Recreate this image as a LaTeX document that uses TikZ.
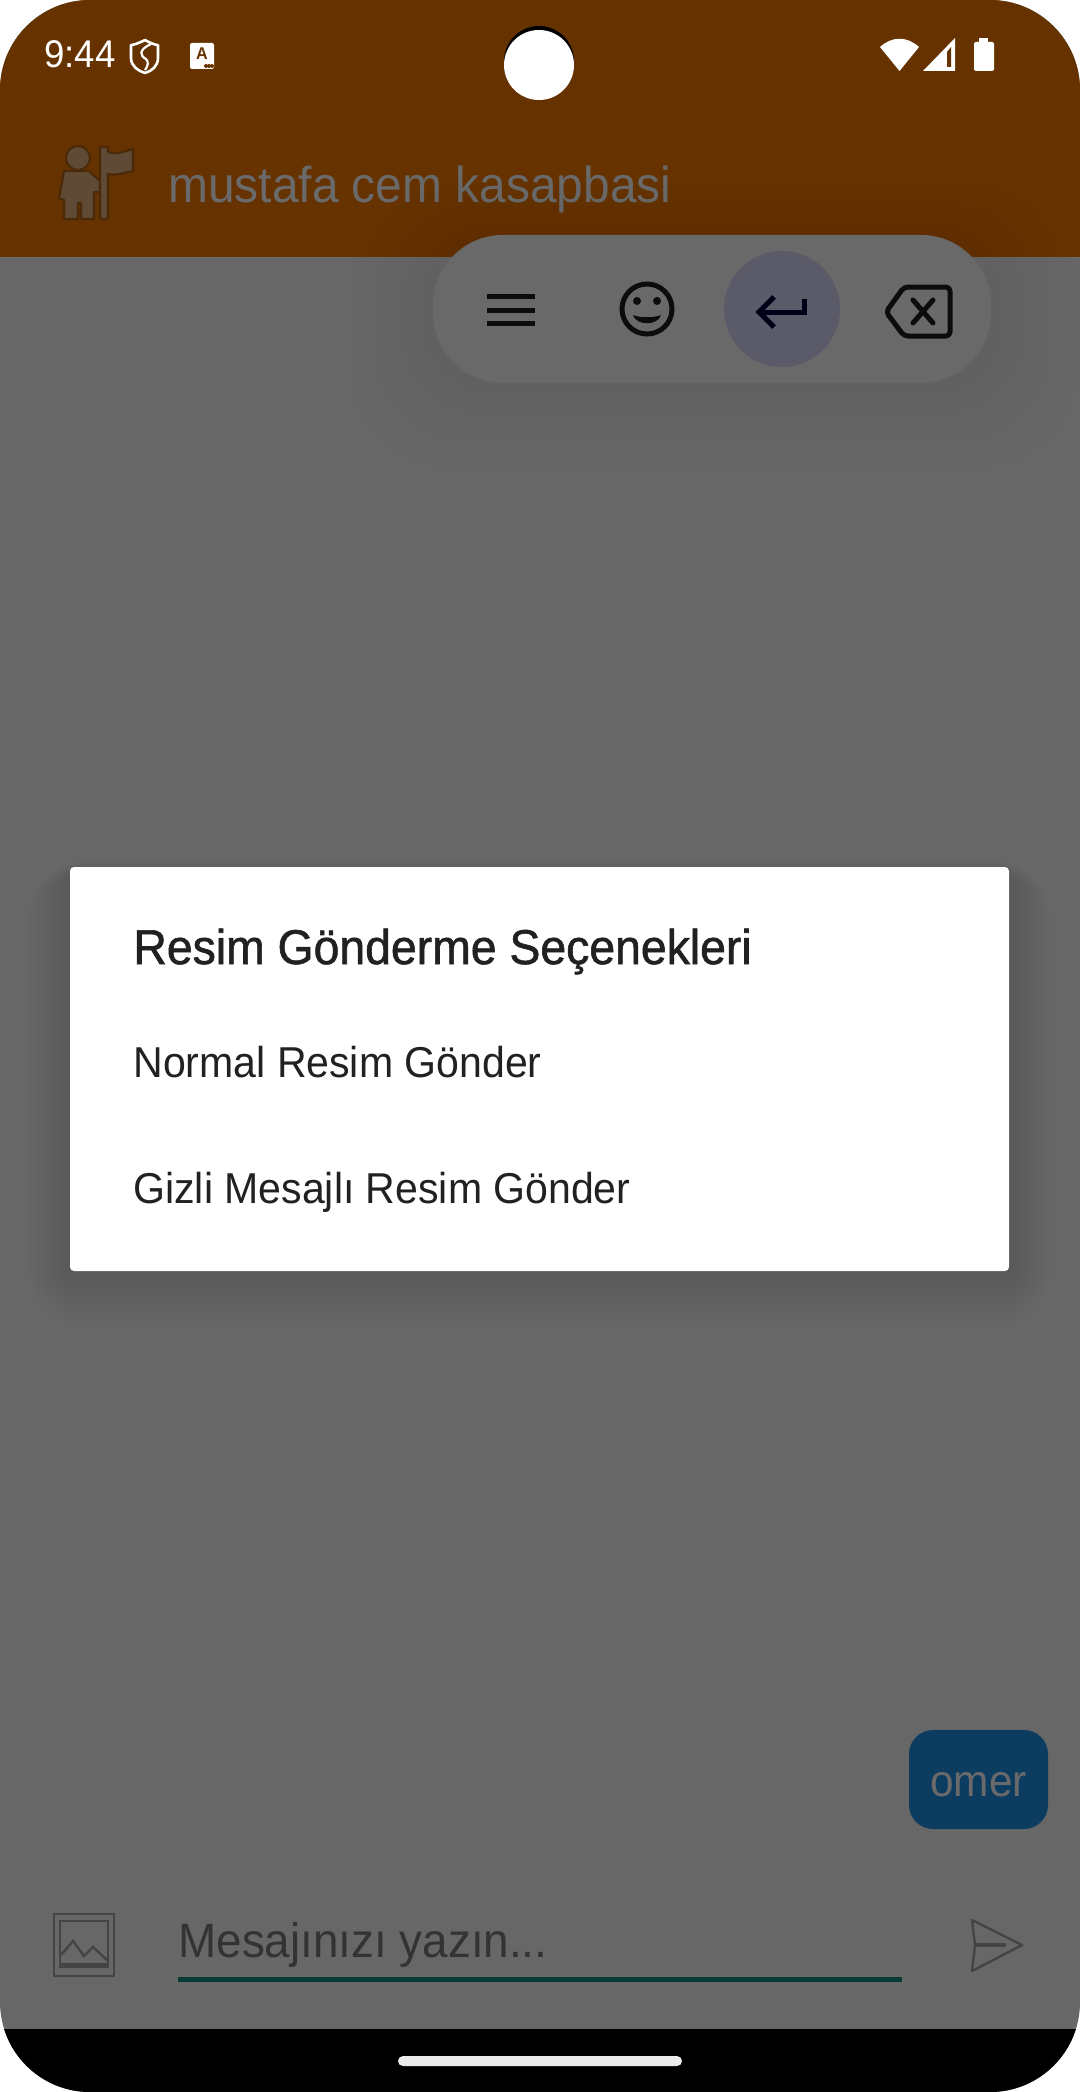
\documentclass[tikz,border=0pt]{standalone}
\usepackage{fontspec}
\setmainfont{Liberation Sans}[FakeStretch=0.95]
\newfontfamily\medfont[FakeBold=1.2,FakeStretch=0.95]{Liberation Sans}
\usetikzlibrary{positioning,calc}
\definecolor{headerbrown}{HTML}{663300}
\definecolor{screengrey}{HTML}{676767}
\definecolor{barblue}{HTML}{0D3C61}
\definecolor{inputgreen}{HTML}{083A36}
\definecolor{dimtext}{HTML}{6A6A6B}
\definecolor{dialogtext}{HTML}{212121}
\definecolor{toolgrey}{HTML}{69696A}
\definecolor{enterfill}{HTML}{5A5A68}
\definecolor{iconink}{HTML}{0C0C0E}
\definecolor{flagfill}{HTML}{5F4A35}
\definecolor{flagedge}{HTML}{4A2A08}
\definecolor{inputink}{HTML}{444444}
\definecolor{hinttext}{HTML}{333333}
\tikzset{
  txt/.style={inner sep=0pt,anchor=base west},
  option/.style={txt,text=dialogtext,font=\fontsize{21.6}{26}\selectfont},
  toolicon/.style={draw=iconink,line width=2.5pt,fill=none},
  inputicon/.style={draw=inputink,line width=1.2pt,fill=none}
}
\begin{document}
\begin{tikzpicture}[x=0.5pt,y=-0.5pt]
  \useasboundingbox (0,0) rectangle (1080,2092);
  \fill[white] (0,0) rectangle (1080,2092);
  \begin{scope}
    \clip[rounded corners=45pt] (0,0) rectangle (1080,2092);
    \fill[screengrey] (0,0) rectangle (1080,2092);
    \fill[headerbrown] (0,0) rectangle (1080,257);
    \fill[black] (0,2029) rectangle (1080,2092);
  \end{scope}
  % status bar
  \node[txt,text=white,font=\fontsize{19.3}{22}\selectfont] (clock) at (44,68) {9:44};
  \draw[white,line width=1.3pt,line join=round] (145,40) .. controls (137,44) and (133,45) .. (131,45) -- (131,58) .. controls (131,66) and (138,71) .. (145,73) .. controls (152,71) and (158,66) .. (158,58) -- (158,45) .. controls (156,45) and (152,44) .. (145,40) -- cycle;
  \draw[white,line width=1.1pt] (151,44) .. controls (138,50) and (140,56) .. (146,59) .. controls (149,62) and (148,66) .. (145,70);
  \fill[white,rounded corners=1pt] (190,43) rectangle (214,69);
  \node[inner sep=0pt,text=headerbrown,font=\fontsize{8.5}{10}\bfseries\selectfont] (badge) at (202,54) {A};
  \foreach \i in {206,209,212} \fill[headerbrown] (\i,66) circle (1pt);
  \fill[black] (539,61) circle (17.5pt);
  \fill[white] (539,65) circle (17.5pt);
  \fill[white] (899.5,71) -- (880,47) .. controls (892,36) and (907,36) .. (919,47) -- cycle;
  \fill[white] (923,71) -- (955,38) -- (955,71) -- cycle;
  \fill[headerbrown] (947,67) -- (947,52) -- (951,47) -- (951,67) -- cycle;
  \fill[white,rounded corners=1pt] (974,42) rectangle (994,71);
  \fill[white] (979,38) rectangle (988,43);
  % header
  \begin{scope}[draw=flagedge,fill=flagfill,line width=1.1pt,line join=round]
    \filldraw (78,158) circle (6pt);
    \filldraw (64,171) -- (89,171) -- (100,181) -- (100,192) -- (94,192) -- (94,219) -- (81,219) -- (81,203) -- (78,203) -- (78,219) -- (64,219) -- (64,200) -- (59,198) -- cycle;
    \filldraw (100,147) -- (108,147) -- (108,152) .. controls (115,155) and (123,152) .. (133,149) -- (133,171) .. controls (123,173) and (115,176) .. (108,174) -- (108,219) -- (100,219) -- cycle;
  \end{scope}
  \node[txt,text=dimtext,font=\fontsize{25.2}{30}\selectfont] (title) at (168,203) {mustafa cem kasapbasi};
  % floating toolbar
  \foreach \i in {1,...,6}
    \fill[black,opacity=0.006,rounded corners=35pt+\i*2pt] (434-\i*14,235-\i*10) rectangle (992+\i*14,383+\i*14);
  \fill[toolgrey,rounded corners=35pt] (433,235) rectangle (991,383);
  \fill[enterfill] (782,309) circle (29pt);
  \foreach \i in {296,310,323} \fill[iconink] (487,\i-2.5) rectangle (535,\i+2.5);
  \draw[toolicon] (647,309) circle (12.5pt);
  \fill[iconink] (637,301) circle (2pt) (657,301) circle (2pt);
  \fill[iconink] (633,315) .. controls (640,318) and (654,318) .. (661,315) .. controls (658,326) and (636,326) .. (633,315) -- cycle;
  \draw[toolicon,draw=black!90!blue] (804,299) -- (804,312) -- (761,312);
  \draw[toolicon,draw=black!90!blue] (774,297) -- (759,312) -- (774,327);
  \draw[toolicon,line join=round,rounded corners=2pt] (886,312) -- (904,287) -- (950,287) -- (950,336) -- (904,336) -- cycle;
  \draw[toolicon,line cap=round] (913,300) -- (933,323) (933,300) -- (913,323);
  % dialog
  \foreach \i in {1,...,14}
    \fill[black,opacity=0.008,rounded corners=2pt+\i*2pt] (70-\i*3,867-\i*1+8) rectangle (1009+\i*3,1271+\i*4);
  \fill[white,rounded corners=2pt] (70,867) rectangle (1009,1271);
  \node[txt,text=dialogtext,font=\fontsize{24.4}{28}\medfont\selectfont] (dlgtitle) at (133,964) {Resim Gönderme Seçenekleri};
  \node[option] (normal) at (133,1077) {Normal Resim Gönder};
  \node[option] (gizli) at (133,1203) {Gizli Mesajlı Resim Gönder};
  % bubble
  \node[fill=barblue,rounded corners=12pt,minimum width=69.5pt,minimum height=49.5pt,inner sep=0pt] (bubble) at (978.5,1779.5) {};
  \node[txt,text=dimtext,font=\fontsize{22.3}{26}\selectfont] (omer) at (930,1796) {omer};
  % input row
  \draw[inputicon] (54,1914) rectangle (114,1976);
  \draw[inputicon] (60,1921) rectangle (108,1967);
  \draw[inputicon] (61,1955) -- (73,1941) -- (84,1956) -- (93,1947) -- (107,1960);
  \fill[inputink] (60,1963) rectangle (108,1967);
  \node[txt,text=hinttext,font=\fontsize{24.1}{28}\selectfont] (hint) at (178,1957) {Mesajınızı yazın...};
  \fill[inputgreen] (178,1977) rectangle (902,1982);
  \draw[inputicon,line join=round] (972,1920) -- (1022,1945) -- (972,1971) -- (975,1945) -- cycle;
  \fill[inputink] (975,1943) rectangle (1006,1947);
  % home pill
  \fill[black!8,rounded corners=2.5pt] (398,2056) rectangle (682,2066);
\end{tikzpicture}
\end{document}
